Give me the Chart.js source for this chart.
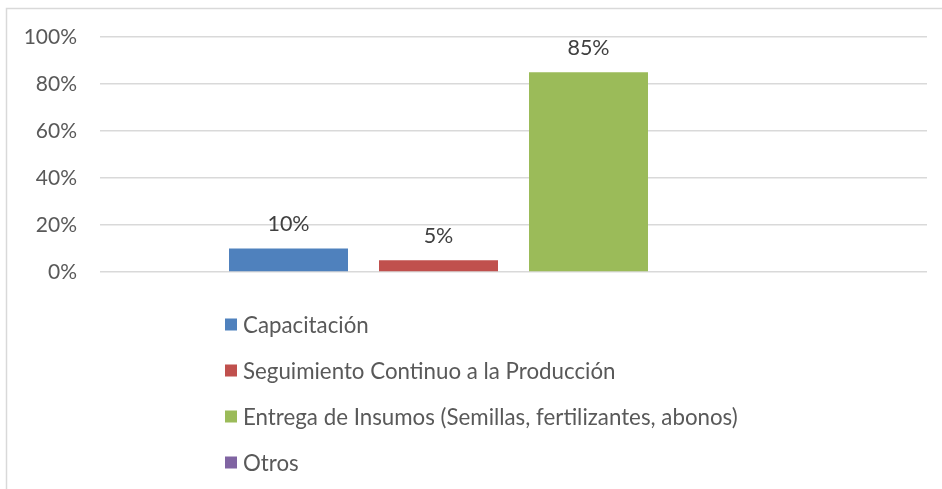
<!DOCTYPE html>
<html>
<head>
<meta charset="utf-8">
<script src="https://cdn.jsdelivr.net/npm/chart.js@4/dist/chart.umd.min.js"></script>
<style>
  html, body { margin: 0; padding: 0; background: #ffffff; }
  #wrap { position: relative; width: 942px; height: 489px; }
  canvas { display: block; }
</style>
</head>
<body>
<div id="wrap"><canvas id="c" width="942" height="489"></canvas></div>
<script>
// ---- data ----
const categories = [""];
const seriesNames = [
  "Capacitación",
  "Seguimiento Continuo a la Producción",
  "Entrega de Insumos (Semillas, fertilizantes, abonos)",
  "Otros"
];
const capacitacion = [10];
const seguimiento = [5];
const entrega = [85];
const otros = [0];
const yTicks = [0, 20, 40, 60, 80, 100];

const seriesValues = [capacitacion, seguimiento, entrega, otros];
const seriesColors = ["#4F81BD", "#C0504D", "#9BBB59", "#8064A2"];

const FONT = "Lato, 'Liberation Sans', sans-serif";
const TICK_SIZE = 21;
const LABEL_SIZE = 21.5;
const LEGEND_SIZE = 22.3;

const frame = {
  id: "frame",
  beforeDraw(chart) {
    const ctx = chart.ctx;
    ctx.save();
    ctx.strokeStyle = "#D9D9D9";
    ctx.lineWidth = 1.5;
    ctx.beginPath();
    ctx.moveTo(6.5, 489);
    ctx.lineTo(6.5, 8.5);
    ctx.lineTo(942, 8.5);
    ctx.stroke();
    ctx.restore();
  }
};

const dataLabels = {
  id: "dataLabels",
  afterDatasetsDraw(chart) {
    const ctx = chart.ctx;
    ctx.save();
    ctx.font = LABEL_SIZE + "px " + FONT;
    ctx.fillStyle = "#404040";
    ctx.textAlign = "center";
    ctx.textBaseline = "middle";
    chart.data.datasets.forEach((ds, di) => {
      const meta = chart.getDatasetMeta(di);
      meta.data.forEach((el, i) => {
        const v = ds.data[i];
        if (!v) return;
        ctx.fillText(v + "%", el.x, el.y - 24);
      });
    });
    ctx.restore();
  }
};

const verticalLegend = {
  id: "verticalLegend",
  afterDraw(chart) {
    const ctx = chart.ctx;
    ctx.save();
    ctx.font = LEGEND_SIZE + "px " + FONT;
    ctx.textAlign = "left";
    ctx.textBaseline = "middle";
    const x0 = 225, y0 = 324.5, step = 46, box = 12;
    chart.data.datasets.forEach((ds, i) => {
      const cy = y0 + i * step;
      ctx.fillStyle = ds.backgroundColor;
      ctx.fillRect(x0, cy - box / 2, box, box);
      ctx.fillStyle = "#595959";
      ctx.fillText(ds.label, x0 + 18, cy + 1);
    });
    ctx.restore();
  }
};

new Chart(document.getElementById("c"), {
  type: "bar",
  data: {
    labels: categories,
    datasets: seriesNames.map((name, i) => ({
      label: name,
      data: seriesValues[i],
      backgroundColor: seriesColors[i],
      borderWidth: 0,
      categoryPercentage: 0.7255,
      barPercentage: 0.7933
    }))
  },
  options: {
    responsive: false,
    animation: false,
    layout: { padding: { top: 37, right: 15, bottom: 217, left: 0 } },
    plugins: {
      legend: { display: false },
      tooltip: { enabled: false }
    },
    scales: {
      x: { display: false },
      y: {
        min: 0,
        max: 100,
        afterBuildTicks(scale) { scale.ticks = yTicks.map(v => ({ value: v })); },
        afterFit(scale) { scale.width = 100; },
        border: { display: false },
        grid: { color: "#D9D9D9", lineWidth: 1.5, drawTicks: false },
        ticks: {
          padding: 23,
          color: "#595959",
          font: { family: FONT, size: TICK_SIZE },
          callback: v => v + "%"
        }
      }
    }
  },
  plugins: [frame, dataLabels, verticalLegend]
});
</script>
</body>
</html>
